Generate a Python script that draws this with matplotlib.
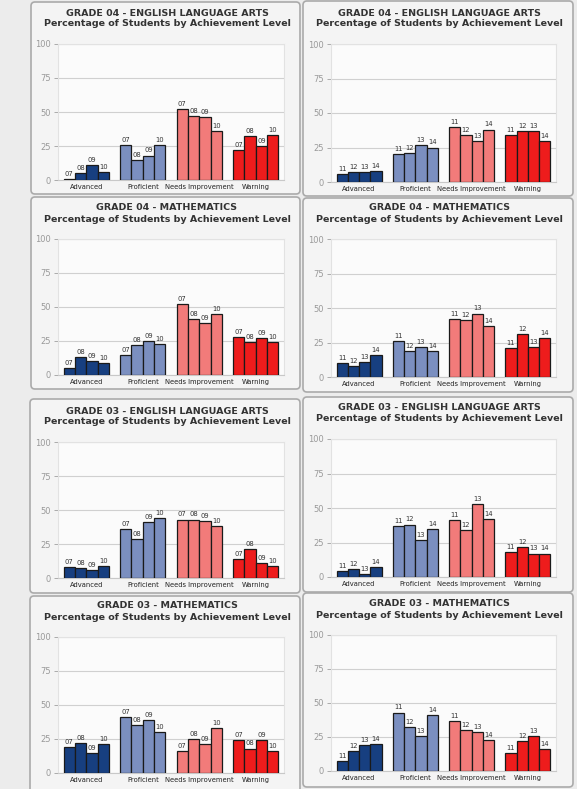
import numpy as np
import matplotlib
matplotlib.use('Agg')
import matplotlib.pyplot as plt
from matplotlib.patches import FancyBboxPatch

# achievement levels and years
levels = ['Advanced', 'Proficient', 'Needs Improvement', 'Warning']
years_a = ['07', '08', '09', '10']
years_b = ['11', '12', '13', '14']

# values, one row per level, one column per year
g4_ela_a = [[1, 5, 11, 6], [26, 15, 18, 26], [52, 47, 46, 36], [22, 32, 25, 33]]
g4_ela_b = [[6, 7, 7, 8], [20, 21, 27, 25], [40, 34, 30, 38], [34, 37, 37, 30]]
g4_math_a = [[5, 13, 10, 9], [15, 22, 25, 23], [52, 41, 38, 45], [28, 24, 27, 24]]
g4_math_b = [[10, 8, 11, 16], [26, 19, 22, 19], [42, 41, 46, 37], [21, 31, 22, 28]]
g3_ela_a = [[8, 7, 6, 9], [36, 29, 41, 44], [43, 43, 42, 38], [14, 21, 11, 9]]
g3_ela_b = [[4, 6, 2, 7], [37, 38, 27, 35], [41, 34, 53, 42], [18, 22, 17, 17]]
g3_math_a = [[19, 22, 15, 21], [41, 35, 39, 30], [16, 25, 21, 33], [24, 18, 24, 16]]
g3_math_b = [[7, 15, 19, 20], [43, 32, 26, 41], [37, 30, 29, 23], [13, 22, 26, 16]]

titles = ['GRADE 04 - ENGLISH LANGUAGE ARTS', 'GRADE 04 - MATHEMATICS',
          'GRADE 03 - ENGLISH LANGUAGE ARTS', 'GRADE 03 - MATHEMATICS']
subtitle = 'Percentage of Students by Achievement Level'

colors = ['#173f80', '#7b8fc0', '#f27b7a', '#ee1c1c']

panels = [
    (titles[0], g4_ela_a, years_a), (titles[0], g4_ela_b, years_b),
    (titles[1], g4_math_a, years_a), (titles[1], g4_math_b, years_b),
    (titles[2], g3_ela_a, years_a), (titles[2], g3_ela_b, years_b),
    (titles[3], g3_math_a, years_a), (titles[3], g3_math_b, years_b),
]

W, H = 577, 789
fig = plt.figure(figsize=(W / 100, H / 100), dpi=100, facecolor='#ececec')

# background layer in pixel units for the rounded panel boxes
bg = fig.add_axes([0, 0, 1, 1])
bg.set_xlim(0, W)
bg.set_ylim(H, 0)
bg.axis('off')
boxes = [(31, 2, 300, 194), (303, 1, 573, 196),
         (31, 197, 300, 389), (303, 198, 573, 392),
         (30, 399, 300, 593), (303, 397, 573, 592),
         (30, 596, 300, 795), (303, 593, 573, 787)]
for x0, y0, x1, y1 in boxes:
    bg.add_patch(FancyBboxPatch((x0 + 4, y0 + 4), x1 - x0 - 8, y1 - y0 - 8,
                                boxstyle='round,pad=4', fc='#f4f4f4',
                                ec='#aaaaaa', lw=1.2))

# plot areas in pixels: left, right, y of 100, y of 0
areas = [(58, 284, 44, 180), (331, 556, 44, 182),
         (58, 284, 239, 375), (331, 556, 239, 377),
         (58, 284, 442, 578), (331, 556, 439, 577),
         (58, 284, 637, 773), (331, 556, 635, 771)]

x = np.arange(len(levels))
bw = 0.2
for (title, vals, yrs), (l, r, t, b) in zip(panels, areas):
    ax = fig.add_axes([l / W, 1 - b / H, (r - l) / W, (b - t) / H])
    ax.set_facecolor('#fbfbfb')
    for i, lev in enumerate(levels):
        for j, yr in enumerate(yrs):
            xp = x[i] - 0.3 + j * bw
            ax.bar(xp, vals[i][j], width=bw, color=colors[i],
                   edgecolor='#1a1a1a', linewidth=0.9, zorder=3)
            ax.text(xp, vals[i][j] + 1.5, yr, ha='center', va='bottom',
                    fontsize=4.9, color='#333333', zorder=4)
    ax.set_xlim(-0.5, 3.5)
    ax.set_ylim(0, 100)
    ax.set_yticks([0, 25, 50, 75, 100])
    ax.yaxis.grid(True, color='#d0d0d0', lw=0.8, zorder=0)
    ax.set_xticks(x)
    ax.set_xticklabels(levels, fontsize=4.9, color='#222222')
    ax.tick_params(axis='x', length=0, pad=3)
    ax.tick_params(axis='y', length=3, width=0.7, color='#aaaaaa',
                   labelcolor='#999999', labelsize=6, pad=2)
    for s in ['top', 'right', 'left']:
        ax.spines[s].set_color('#e2e2e2')
        ax.spines[s].set_linewidth(0.8)
    ax.spines['bottom'].set_color('#c8c8c8')
    cx = (l + r) / 2 - 4
    fig.text(cx / W, 1 - (t - 31) / H, title, ha='center', va='center',
             fontsize=6.8, fontweight='bold', color='#333333')
    fig.text(cx / W, 1 - (t - 20) / H, subtitle, ha='center', va='center',
             fontsize=6.8, fontweight='bold', color='#333333')

fig.savefig('out.png', dpi=100, facecolor=fig.get_facecolor())
